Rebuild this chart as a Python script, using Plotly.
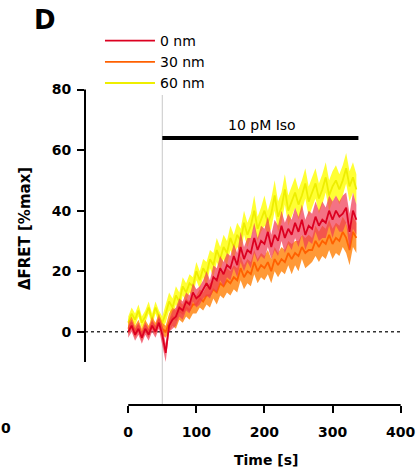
import plotly.graph_objects as go

# ---- data ----
time_s = [0, 5, 10, 15, 20, 25, 30, 35, 40, 45,
          50, 55, 60, 65, 70, 75, 80, 85, 90, 95,
          100, 105, 110, 115, 120, 125, 130, 135, 140, 145,
          150, 155, 160, 165, 170, 175, 180, 185, 190, 195,
          200, 205, 210, 215, 220, 225, 230, 235, 240, 245,
          250, 255, 260, 265, 270, 275, 280, 285, 290, 295,
          300, 305, 310, 315, 320, 325, 330, 335]

red_0nm = [0, 2, -1, 1, -2, 1, -1, 2, 0, 3,
           -1, -7, 2, 4, 5, 8, 7, 10, 9, 13,
           11, 12, 14, 16, 14, 18, 17, 21, 19, 22,
           21, 25, 22, 28, 24, 27, 26, 31, 27, 30,
           29, 33, 28, 32, 30, 35, 31, 34, 32, 36,
           33, 37, 32, 35, 34, 38, 35, 37, 36, 40,
           37, 40, 38, 39, 41, 33, 40, 37]
red_sem = [2, 2, 2, 2, 2, 2, 2, 2, 2, 2,
           3, 3, 2, 3, 3, 3, 3, 3, 3, 3,
           3, 3, 3, 4, 3, 4, 4, 4, 4, 4,
           4, 4, 4, 5, 4, 4, 5, 5, 4, 5,
           5, 5, 4, 5, 5, 5, 5, 5, 5, 5,
           5, 5, 5, 5, 5, 5, 5, 6, 5, 5,
           6, 5, 5, 6, 5, 6, 6, 5]

orange_30nm = [1, 3, 0, 2, -1, 2, 0, 3, 1, 4,
               1, 0, 3, 5, 4, 7, 6, 8, 7, 9,
               9, 11, 10, 12, 12, 14, 13, 16, 15, 17,
               16, 18, 17, 21, 18, 20, 19, 23, 20, 22,
               21, 23, 20, 24, 22, 24, 23, 26, 24, 26,
               25, 28, 26, 27, 27, 30, 28, 30, 29, 32,
               29, 31, 30, 33, 31, 27, 33, 31]
orange_sem = [2, 2, 2, 2, 2, 2, 2, 2, 2, 2,
              2, 2, 3, 3, 3, 3, 3, 3, 3, 3,
              3, 3, 3, 3, 4, 3, 4, 4, 4, 4,
              4, 4, 4, 4, 4, 4, 4, 4, 4, 4,
              4, 4, 4, 4, 4, 4, 4, 4, 5, 4,
              5, 4, 5, 5, 4, 5, 5, 5, 5, 5,
              5, 5, 5, 5, 5, 5, 5, 5]

yellow_60nm = [3, 6, 4, 7, 3, 5, 8, 4, 8, 5,
               3, 6, 10, 8, 12, 10, 15, 13, 16, 15,
               20, 17, 21, 19, 24, 22, 27, 24, 28, 26,
               31, 28, 32, 30, 36, 32, 35, 40, 34, 37,
               40, 36, 39, 45, 38, 41, 47, 40, 43, 46,
               42, 45, 49, 43, 46, 49, 44, 47, 51, 45,
               48, 50, 47, 50, 54, 48, 51, 47]
yellow_sem = [2, 2, 2, 2, 2, 2, 2, 2, 2, 2,
              2, 3, 3, 3, 3, 3, 3, 3, 3, 3,
              3, 3, 3, 4, 3, 4, 4, 4, 4, 4,
              4, 4, 4, 4, 4, 4, 4, 5, 4, 4,
              5, 4, 5, 5, 5, 5, 5, 5, 5, 5,
              5, 5, 5, 5, 5, 5, 5, 5, 5, 5,
              5, 5, 5, 5, 5, 5, 5, 5]

series_names = ["0 nm", "30 nm", "60 nm"]
x_ticks = [0, 100, 200, 300, 400]
y_ticks = [0, 20, 40, 60, 80]
stim_start, stim_end, stim_label = 50, 338, "10 pM Iso"

FONT = "DejaVu Sans, Arial, sans-serif"

fig = go.Figure()

def add_series(name, mean, sem, line_col, band_col, rank):
    upper = [m + s for m, s in zip(mean, sem)]
    lower = [m - s for m, s in zip(mean, sem)]
    fig.add_trace(go.Scatter(
        x=time_s + time_s[::-1], y=upper + lower[::-1],
        fill="toself", fillcolor=band_col, line=dict(width=0),
        mode="lines", showlegend=False, hoverinfo="skip"))
    fig.add_trace(go.Scatter(
        x=time_s, y=mean, mode="lines", name=name, legendrank=rank,
        line=dict(color=line_col, width=1.8)))

# back to front: yellow, orange, red
add_series(series_names[2], yellow_60nm, yellow_sem, "#eeee00", "rgba(255,255,30,0.9)", 3)
add_series(series_names[1], orange_30nm, orange_sem, "#ff6000", "rgba(255,135,20,0.85)", 2)
add_series(series_names[0], red_0nm, red_sem, "#dc0020", "rgba(240,60,85,0.72)", 1)

X0, X1 = -63.5, 402
Y0, Y1 = -24.2, 81.5

shapes = [
    # y axis line (-10 .. 80)
    dict(type="line", xref="paper", x0=0, x1=0, yref="y", y0=-10, y1=80,
         line=dict(color="black", width=2)),
    # x axis line (0 .. 400)
    dict(type="line", xref="x", x0=0, x1=400, yref="paper", y0=0, y1=0,
         line=dict(color="black", width=2)),
    # zero dotted line
    dict(type="line", xref="x", x0=X0, x1=400, yref="y", y0=0, y1=0,
         line=dict(color="#333333", width=1.5, dash="dot"), layer="below"),
    # stimulus vertical line
    dict(type="line", xref="x", x0=stim_start, x1=stim_start, yref="y", y0=Y0, y1=78.2,
         line=dict(color="#c8c8c8", width=1), layer="below"),
    # stimulus bar
    dict(type="line", xref="x", x0=stim_start, x1=stim_end, yref="y", y0=64, y1=64,
         line=dict(color="black", width=4)),
]

PW, PH = 317.5, 320.0   # plot area size in px
PL, PB = 85.0, 405.0    # plot left / bottom in page px

def px_x(p):
    return (p - PL) / PW

def px_y(p):
    return (PB - p) / PH

annotations = [
    dict(text=stim_label, x=196, y=68.3, xref="x", yref="y", showarrow=False,
         xanchor="center", yanchor="middle",
         font=dict(family=FONT, size=14, color="black")),
    dict(text="<b>D</b>", x=px_x(45), y=px_y(20), xref="paper", yref="paper",
         xanchor="center", yanchor="middle", showarrow=False,
         font=dict(family=FONT, size=26, color="black")),
    dict(text="<b>Time [s]</b>", x=px_x(266), y=px_y(460), xref="paper", yref="paper",
         xanchor="center", yanchor="middle", showarrow=False,
         font=dict(family=FONT, size=14, color="black")),
    dict(text="<b>ΔFRET [%max]</b>", x=px_x(25), y=px_y(229), xref="paper", yref="paper",
         xanchor="center", yanchor="middle", textangle=-90, showarrow=False,
         font=dict(family=FONT, size=15, color="black")),
    dict(text="<b>0</b>", x=px_x(6), y=px_y(428), xref="paper", yref="paper",
         xanchor="center", yanchor="middle", showarrow=False,
         font=dict(family=FONT, size=14, color="black")),
]

fig.update_layout(
    width=418, height=472,
    margin=dict(l=85, r=15.5, t=85, b=67, autoexpand=False),
    paper_bgcolor="white", plot_bgcolor="white",
    font=dict(family=FONT, size=14, color="black"),
    xaxis=dict(range=[X0, X1], tickvals=x_ticks, ticks="outside", ticklen=7,
               tickwidth=2, tickcolor="black", showline=False, showgrid=False,
               zeroline=False, automargin=False, ticklabelstandoff=7,
               tickfont=dict(family=FONT, size=14, weight="bold")),
    yaxis=dict(range=[Y0, Y1], tickvals=y_ticks, ticks="outside", ticklen=7,
               tickwidth=2, tickcolor="black", showline=False, showgrid=False,
               zeroline=False, automargin=False, ticklabelstandoff=3,
               tickfont=dict(family=FONT, size=14, weight="bold")),
    legend=dict(x=px_x(100), y=px_y(25), xanchor="left", yanchor="top",
                bgcolor="rgba(0,0,0,0)", font=dict(family=FONT, size=14),
                tracegroupgap=0, itemwidth=50),
    shapes=shapes, annotations=annotations,
)

fig.write_html("out.html", config={"displayModeBar": False},
               post_script="document.body.style.margin='0';")
